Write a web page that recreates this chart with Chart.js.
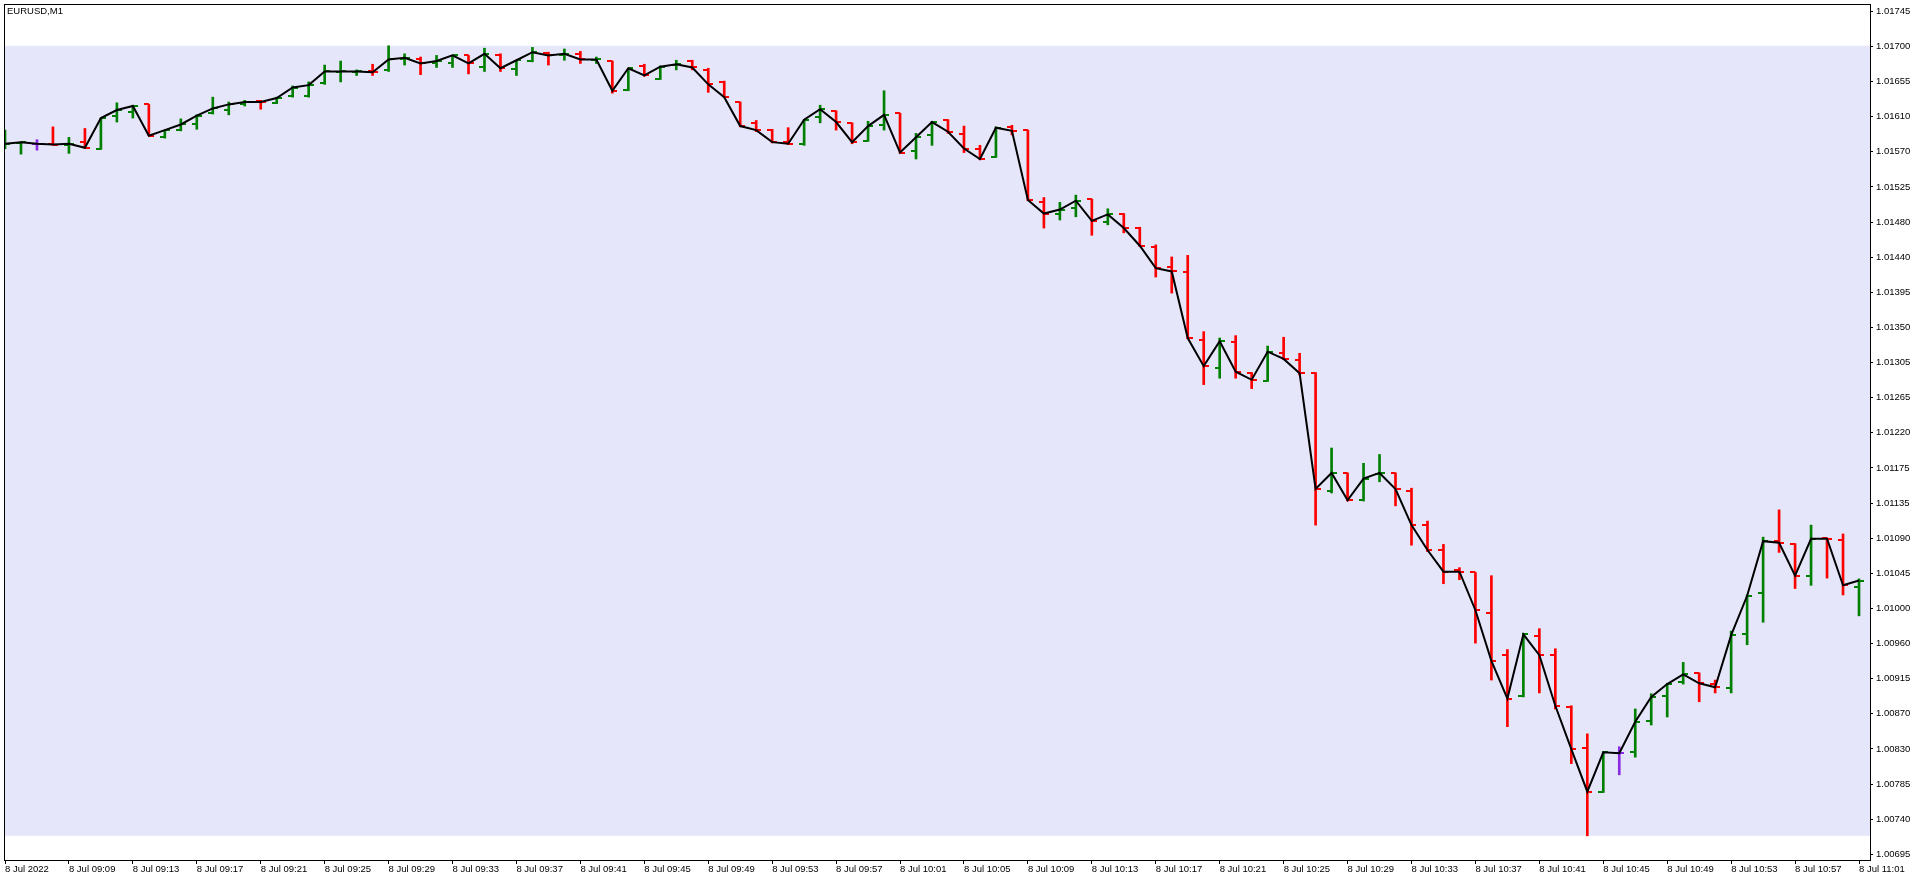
<!DOCTYPE html>
<html>
<head>
<meta charset="utf-8">
<script src="https://cdn.jsdelivr.net/npm/chart.js@4.4.1/dist/chart.umd.min.js"></script>
<style>
  html, body { margin: 0; padding: 0; background: #fff; }
  canvas { display: block; }
</style>
</head>
<body>
<canvas id="chart" width="1916" height="880"></canvas>
<script>
// EURUSD M1, 8 Jul 2022 09:05 .. 11:01, one bar per minute
const symbol = "EURUSD,M1";

const opens = [
  1.01576, 1.01581, 1.01580, 1.01580, 1.01579, 1.01582, 1.01574, 1.01615, 1.01620, 1.01629,
  1.01588, 1.01597, 1.01605, 1.01618, 1.01622, 1.01630, 1.01633, 1.01631, 1.01639, 1.01640,
  1.01656, 1.01669, 1.01669, 1.01671, 1.01672, 1.01686, 1.01686, 1.01680, 1.01681, 1.01690,
  1.01675, 1.01691, 1.01673, 1.01683, 1.01693, 1.01691, 1.01692, 1.01684, 1.01683, 1.01647,
  1.01677, 1.01661, 1.01678, 1.01683, 1.01672, 1.01657, 1.01632, 1.01606, 1.01597, 1.01582,
  1.01580, 1.01613, 1.01621, 1.01606, 1.01584, 1.01603, 1.01618, 1.01571, 1.01591, 1.01609,
  1.01592, 1.01574, 1.01564, 1.01601, 1.01597, 1.01507, 1.01492, 1.01500, 1.01511, 1.01482,
  1.01492, 1.01475, 1.01451, 1.01427, 1.01420, 1.01336, 1.01301, 1.01333, 1.01295, 1.01285,
  1.01319, 1.01311, 1.01295, 1.01148, 1.01170, 1.01136, 1.01169, 1.01170, 1.01147, 1.01105,
  1.01074, 1.01049, 1.01046, 1.00995, 1.00943, 1.00892, 1.00967, 1.00943, 1.00878, 1.00827,
  1.00773, 1.00821, 1.00822, 1.00861, 1.00892, 1.00909, 1.00921, 1.00907, 1.00902, 1.00970,
  1.01020, 1.01085, 1.01082, 1.01041, 1.01089, 1.01087, 1.01028
];
const highs = [
  1.01597, 1.01582, 1.01585, 1.01601, 1.01588, 1.01599, 1.01612, 1.01631, 1.01628, 1.01629,
  1.01597, 1.01611, 1.01616, 1.01638, 1.01632, 1.01634, 1.01634, 1.01638, 1.01652, 1.01657,
  1.01678, 1.01683, 1.01672, 1.01679, 1.01702, 1.01692, 1.01688, 1.01690, 1.01690, 1.01690,
  1.01699, 1.01692, 1.01684, 1.01700, 1.01694, 1.01698, 1.01695, 1.01688, 1.01683, 1.01674,
  1.01679, 1.01677, 1.01684, 1.01684, 1.01674, 1.01658, 1.01632, 1.01609, 1.01598, 1.01600,
  1.01610, 1.01628, 1.01621, 1.01606, 1.01608, 1.01646, 1.01618, 1.01593, 1.01608, 1.01610,
  1.01602, 1.01578, 1.01601, 1.01603, 1.01597, 1.01513, 1.01507, 1.01516, 1.01511, 1.01499,
  1.01493, 1.01476, 1.01454, 1.01439, 1.01441, 1.01346, 1.01338, 1.01341, 1.01295, 1.01328,
  1.01339, 1.01319, 1.01295, 1.01201, 1.01170, 1.01182, 1.01193, 1.01170, 1.01151, 1.01110,
  1.01081, 1.01052, 1.01046, 1.01042, 1.00950, 1.00970, 1.00976, 1.00951, 1.00880, 1.00845,
  1.00823, 1.00829, 1.00876, 1.00895, 1.00908, 1.00934, 1.00921, 1.00912, 1.00973, 1.01018,
  1.01090, 1.01124, 1.01082, 1.01105, 1.01089, 1.01094, 1.01038
];
const lows = [
  1.01574, 1.01567, 1.01572, 1.01578, 1.01568, 1.01574, 1.01573, 1.01607, 1.01612, 1.01590,
  1.01587, 1.01596, 1.01598, 1.01617, 1.01616, 1.01627, 1.01623, 1.01630, 1.01638, 1.01638,
  1.01654, 1.01657, 1.01665, 1.01665, 1.01670, 1.01678, 1.01666, 1.01675, 1.01675, 1.01667,
  1.01670, 1.01670, 1.01665, 1.01682, 1.01678, 1.01684, 1.01680, 1.01680, 1.01643, 1.01646,
  1.01664, 1.01660, 1.01672, 1.01672, 1.01644, 1.01638, 1.01601, 1.01595, 1.01581, 1.01579,
  1.01578, 1.01606, 1.01597, 1.01580, 1.01583, 1.01597, 1.01568, 1.01561, 1.01578, 1.01593,
  1.01569, 1.01560, 1.01563, 1.01591, 1.01509, 1.01475, 1.01485, 1.01489, 1.01466, 1.01479,
  1.01469, 1.01452, 1.01414, 1.01394, 1.01337, 1.01280, 1.01288, 1.01288, 1.01275, 1.01284,
  1.01311, 1.01292, 1.01105, 1.01145, 1.01135, 1.01135, 1.01159, 1.01129, 1.01080, 1.01072,
  1.01032, 1.01037, 1.00958, 1.00912, 1.00854, 1.00891, 1.00896, 1.00876, 1.00808, 1.00718,
  1.00772, 1.00794, 1.00816, 1.00856, 1.00866, 1.00907, 1.00885, 1.00896, 1.00896, 1.00956,
  1.00984, 1.01071, 1.01026, 1.01030, 1.01039, 1.01018, 1.00992
];
const closes = [
  1.01580, 1.01582, 1.01580, 1.01579, 1.01580, 1.01575, 1.01612, 1.01622, 1.01627, 1.01590,
  1.01597, 1.01604, 1.01615, 1.01624, 1.01629, 1.01632, 1.01632, 1.01637, 1.01650, 1.01653,
  1.01670, 1.01670, 1.01670, 1.01669, 1.01685, 1.01687, 1.01680, 1.01683, 1.01690, 1.01680,
  1.01692, 1.01674, 1.01684, 1.01694, 1.01690, 1.01692, 1.01685, 1.01685, 1.01646, 1.01674,
  1.01665, 1.01676, 1.01679, 1.01675, 1.01654, 1.01638, 1.01602, 1.01597, 1.01582, 1.01580,
  1.01610, 1.01623, 1.01607, 1.01582, 1.01602, 1.01616, 1.01569, 1.01588, 1.01607, 1.01595,
  1.01574, 1.01561, 1.01600, 1.01596, 1.01510, 1.01493, 1.01498, 1.01509, 1.01484, 1.01492,
  1.01475, 1.01453, 1.01425, 1.01421, 1.01338, 1.01303, 1.01334, 1.01296, 1.01286, 1.01321,
  1.01312, 1.01294, 1.01150, 1.01170, 1.01136, 1.01163, 1.01170, 1.01150, 1.01105, 1.01074,
  1.01047, 1.01047, 1.00999, 1.00936, 1.00889, 1.00969, 1.00943, 1.00880, 1.00826, 1.00773,
  1.00822, 1.00821, 1.00860, 1.00891, 1.00907, 1.00919, 1.00908, 1.00903, 1.00968, 1.01017,
  1.01085, 1.01083, 1.01042, 1.01088, 1.01088, 1.01030, 1.01036
];

// time axis: a label every 4 bars
const labelEvery = 4;
const xTickLabels = [
  "8 Jul 2022", "8 Jul 09:09", "8 Jul 09:13", "8 Jul 09:17", "8 Jul 09:21", "8 Jul 09:25",
  "8 Jul 09:29", "8 Jul 09:33", "8 Jul 09:37", "8 Jul 09:41", "8 Jul 09:45", "8 Jul 09:49",
  "8 Jul 09:53", "8 Jul 09:57", "8 Jul 10:01", "8 Jul 10:05", "8 Jul 10:09", "8 Jul 10:13",
  "8 Jul 10:17", "8 Jul 10:21", "8 Jul 10:25", "8 Jul 10:29", "8 Jul 10:33", "8 Jul 10:37",
  "8 Jul 10:41", "8 Jul 10:45", "8 Jul 10:49", "8 Jul 10:53", "8 Jul 10:57", "8 Jul 11:01"
];

// price axis labels, evenly spaced from the first to the last
const yTickLabels = [
  "1.01745", "1.01700", "1.01655", "1.01610", "1.01570", "1.01525", "1.01480", "1.01440",
  "1.01395", "1.01350", "1.01305", "1.01265", "1.01220", "1.01175", "1.01135", "1.01090",
  "1.01045", "1.01000", "1.00960", "1.00915", "1.00870", "1.00830", "1.00785", "1.00740",
  "1.00695"
];
const yLabelTop = 1.01745;
const yLabelBottom = 1.00695;
const priceMax = 1.017528;
const priceMin = 1.006879;

// shaded range rectangle
const rangeHigh = 1.01702;
const rangeLow = 1.00718;

const UP = "#008000", DOWN = "#ff0000", FLAT = "#8a2be2";
const barColor = closes.map((c, i) => c > opens[i] ? UP : (c < opens[i] ? DOWN : FLAT));

function tickImage(color, side) {
  const c = document.createElement("canvas");
  c.width = 10;
  c.height = 2;
  const g = c.getContext("2d");
  g.fillStyle = color;
  g.fillRect(side === "left" ? 0 : 5, 0, 5, 2);
  return c;
}
const openTick = {}, closeTick = {};
[UP, DOWN, FLAT].forEach(col => {
  openTick[col] = tickImage(col, "left");
  closeTick[col] = tickImage(col, "right");
});

const FONT = "'Liberation Sans', Arial, sans-serif";
Chart.defaults.font.family = FONT;
Chart.defaults.font.size = 9.5;
Chart.defaults.color = "#000";

const frame = {
  id: "frame",
  beforeDatasetsDraw(chart) {
    const { ctx, chartArea: a, scales: { y } } = chart;
    const top = y.getPixelForValue(rangeHigh);
    const bottom = y.getPixelForValue(rangeLow);
    ctx.save();
    ctx.fillStyle = "#e6e6fa";
    ctx.fillRect(a.left, top, a.right - a.left, bottom - top);
    ctx.restore();
  },
  afterDraw(chart) {
    const { ctx, chartArea: a } = chart;
    ctx.save();
    ctx.strokeStyle = "#000";
    ctx.lineWidth = 1;
    ctx.strokeRect(a.left - 0.5, a.top - 0.5, a.right - a.left + 1, a.bottom - a.top + 1);
    ctx.fillStyle = "#000";
    ctx.font = "9.5px " + FONT;
    ctx.textBaseline = "middle";
    ctx.fillText(symbol, 7, 11);
    ctx.restore();
  }
};

const idx = closes.map((_, i) => i);

new Chart(document.getElementById("chart"), {
  type: "bar",
  data: {
    datasets: [
      {
        type: "line",
        data: idx.map(i => ({ x: i, y: closes[i] })),
        borderColor: "#000",
        borderWidth: 2,
        pointRadius: 0,
        tension: 0,
        order: 0
      },
      {
        type: "scatter",
        data: idx.map(i => ({ x: i, y: opens[i] })),
        pointStyle: ctx => openTick[barColor[ctx.dataIndex]],
        pointRadius: 1,
        order: 1
      },
      {
        type: "scatter",
        data: idx.map(i => ({ x: i, y: closes[i] })),
        pointStyle: ctx => closeTick[barColor[ctx.dataIndex]],
        pointRadius: 1,
        order: 1
      },
      {
        type: "bar",
        data: idx.map(i => ({ x: i, y: [lows[i], highs[i]] })),
        backgroundColor: barColor,
        borderWidth: 0,
        barThickness: 2,
        order: 2
      }
    ]
  },
  options: {
    responsive: false,
    devicePixelRatio: 1,
    animation: false,
    events: [],
    layout: { padding: { left: 3, top: 3, right: 0, bottom: 0 } },
    plugins: { legend: { display: false }, tooltip: { enabled: false } },
    scales: {
      x: {
        type: "linear",
        min: 0,
        max: 116.6875,
        offset: false,
        border: { display: false },
        grid: { drawOnChartArea: false, offset: false, color: "#000", tickLength: 4 },
        ticks: {
          autoSkip: false,
          maxRotation: 0,
          align: "start",
          padding: 0,
          callback: (v, i) => xTickLabels[i]
        },
        afterBuildTicks: s => {
          s.ticks = xTickLabels.map((_, i) => ({ value: i * labelEvery }));
        },
        afterFit: s => {
          s.height = 20;
          s.paddingLeft = 0;
          s.paddingRight = 0;
        }
      },
      y: {
        type: "linear",
        position: "right",
        min: priceMin,
        max: priceMax,
        beginAtZero: false,
        border: { display: false },
        grid: { drawOnChartArea: false, color: "#000", tickLength: 3 },
        ticks: {
          autoSkip: false,
          padding: 3,
          callback: (v, i) => yTickLabels[i]
        },
        afterBuildTicks: s => {
          const step = (yLabelTop - yLabelBottom) / (yTickLabels.length - 1);
          s.ticks = yTickLabels.map((_, i) => ({ value: yLabelTop - i * step }));
        },
        afterFit: s => {
          s.width = 46;
          s.paddingTop = 0;
          s.paddingBottom = 0;
        }
      }
    }
  },
  plugins: [frame]
});
</script>
</body>
</html>
